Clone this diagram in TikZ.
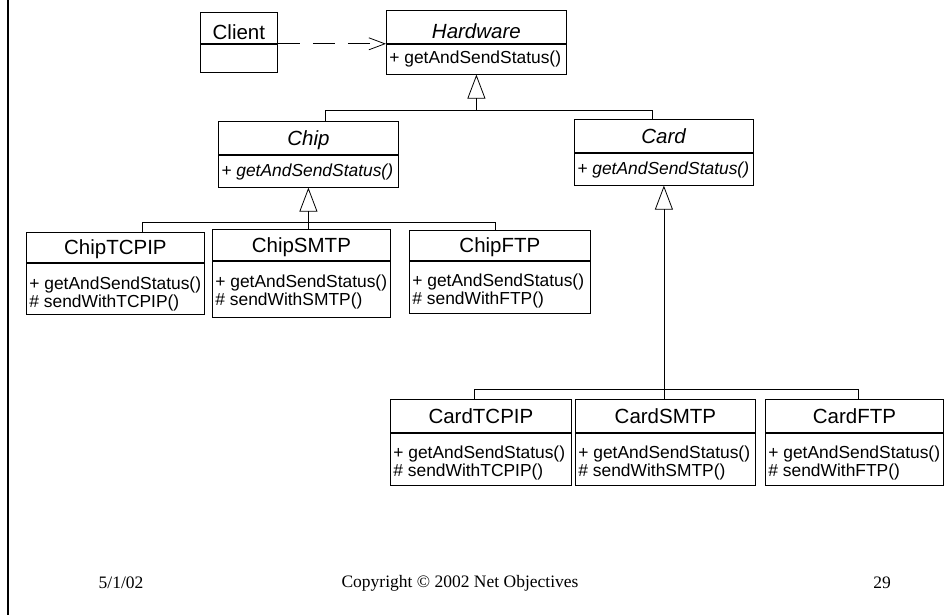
\documentclass[tikz,border=0pt]{standalone}
\usepackage{fontspec}
\setmainfont{Liberation Sans}
\newfontfamily\footfont{Liberation Serif}
\usetikzlibrary{arrows.meta}

\newcommand\titlefont{\fontsize{20.5}{22}\selectfont}
\newcommand\methfont{\fontsize{17.4}{18}\selectfont}

% class box: [title options], name, corner, width, title height,
% body height, gap above the first body line, title, body lines
\newcommand\umlclass[9][]{%
  \node[clstitle, minimum width=#4pt, minimum height=#5pt, #1] (#2T) at #3 {#8};
  \node[clsbody, minimum width=#4pt, minimum height=#6pt] (#2) at (#2T.south west)
    {\parbox[c][#6pt][t]{\dimexpr#4pt-6pt\relax}{\vspace*{#7pt}\raggedright\methfont #9}};
}

\begin{document}
\begin{tikzpicture}[x=1pt,y=-1pt,
  clstitle/.style={draw, line width=0.8pt, anchor=north west, inner sep=0pt,
                   text height=14.7pt, text depth=0pt, font=\titlefont},
  clsbody/.style={draw, line width=0.8pt, anchor=north west, inner xsep=3pt, inner ysep=0pt},
  tree/.style={line width=0.8pt},
  gen/.style={tree, -{Triangle[open, length=24pt, width=18pt]}},
  dep/.style={line width=0.8pt, dash pattern=on 22pt off 13pt,
              -{Straight Barb[length=16pt, width=12pt]}},
  foot/.style={font=\footfont\fontsize{17.5}{20}\selectfont, inner sep=0pt}
]
\useasboundingbox (0,0) rectangle (950,615);

% left margin rule
\draw[line width=2.2pt] (8,0) -- (8,615);

% classes
\umlclass[text height=22.7pt]{client}{(200,12)}{77}{31}{28}{0}{Client}{}
\umlclass[text height=22.7pt]{hw}{(386,10)}{180}{33}{30}{7}{\textit{Hardware}}{+ getAndSendStatus()}
\umlclass{chip}{(218,121)}{180}{33}{32}{9}{\textit{Chip}}{\itshape + getAndSendStatus()}
\umlclass{card}{(574,119)}{179}{33}{32}{9}{\textit{Card}}{\itshape + getAndSendStatus()}

\umlclass{ctcp}{(26,232)}{178}{30}{51}{13.5}{ChipTCPIP}{+ getAndSendStatus()\\\# sendWithTCPIP()}
\umlclass{csmtp}{(212,229)}{178}{31}{56}{14}{ChipSMTP}{+ getAndSendStatus()\\\# sendWithSMTP()}
\umlclass{cftp}{(409,230)}{181}{30}{52}{13}{ChipFTP}{+ getAndSendStatus()\\\# sendWithFTP()}

\umlclass{dtcp}{(390,399)}{181}{33}{52}{12.5}{CardTCPIP}{+ getAndSendStatus()\\\# sendWithTCPIP()}
\umlclass{dsmtp}{(575,399)}{180}{33}{52}{12.5}{CardSMTP}{+ getAndSendStatus()\\\# sendWithSMTP()}
\umlclass{dftp}{(765,399)}{178}{33}{52}{12.5}{CardFTP}{+ getAndSendStatus()\\\# sendWithFTP()}

% dependency
\draw[dep] (clientT.south east) -- (hwT.south west);

% Hardware hierarchy
\coordinate (hwJ) at ([yshift=-36pt]hw.south);
\draw[gen] (hwJ) -- (hw.south);
\draw[tree] ([xshift=17pt]chipT.north) |- (hwJ) -| ([xshift=-11.5pt]cardT.north);

% Chip hierarchy
\coordinate (chipJ) at ([yshift=-35pt]chip.south);
\draw[gen] (chipJ) -- (chip.south);
\draw[tree] ([xshift=27pt]ctcpT.north) |- (chipJ) -| ([xshift=-4.5pt]cftpT.north);
\draw[tree] (chipJ) -- (chipJ |- csmtpT.north);

% Card hierarchy
\draw[gen] (card.south |- dsmtpT.north) -- (card.south);
\draw[tree] ([xshift=-6.5pt]dtcpT.north) -- ++(0,-10) -| ([xshift=4pt]dftpT.north);

% footer
\node[foot] (date) at (121,583) {5/1/02};
\node[foot] (copy) at (460,583) {Copyright © 2002 Net Objectives};
\node[foot] (page) at (882,583) {29};
\end{tikzpicture}
\end{document}
